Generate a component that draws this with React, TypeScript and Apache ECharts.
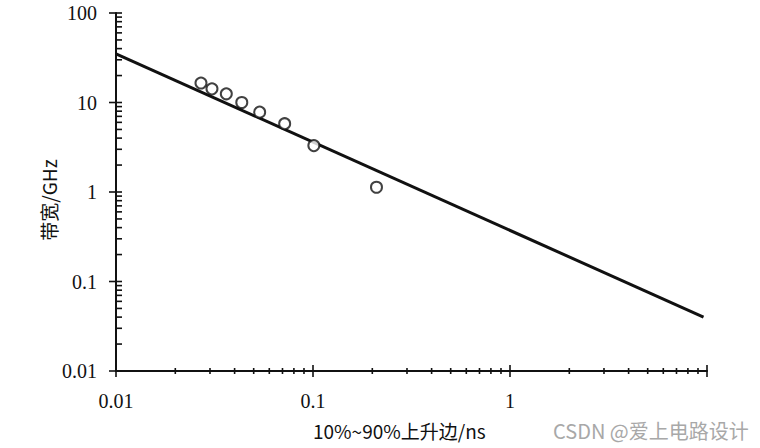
import React, { useEffect, useRef } from "react";
import * as echarts from "echarts";

const xTickLabels = ["0.01", "0.1", "1", ""];
const yTickLabels = ["0.01", "0.1", "1", "10", "100"];
const xMajorTicks = [0.01, 0.1, 1, 10];
const yMajorTicks = [0.01, 0.1, 1, 10, 100];
const xMinorTicks = [0.02, 0.03, 0.04, 0.05, 0.06, 0.07, 0.08, 0.09, 0.2, 0.3, 0.4, 0.5, 0.6, 0.7, 0.8, 0.9, 2, 3, 4, 5, 6, 7, 8, 9];
const yMinorTicks = [0.02, 0.03, 0.04, 0.05, 0.06, 0.07, 0.08, 0.09, 0.2, 0.3, 0.4, 0.5, 0.6, 0.7, 0.8, 0.9, 2, 3, 4, 5, 6, 7, 8, 9, 20, 30, 40, 50, 60, 70, 80, 90];

const fitLine = [
  [0.01, 35],
  [9.6, 0.04],
];
const measured = [
  [0.027, 16.5],
  [0.0307, 14.2],
  [0.0363, 12.5],
  [0.0435, 10.0],
  [0.0536, 7.8],
  [0.0718, 5.8],
  [0.101, 3.3],
  [0.21, 1.13],
];

const xName = "10%~90%上升边/ns";
const yName = "带宽/GHz";
const watermark = "CSDN @爱上电路设计";

export default function App() {
  const ref = useRef<HTMLDivElement>(null);
  useEffect(() => {
    if (!ref.current) return;
    const chart = echarts.init(ref.current, null, { renderer: "svg" });
    const tickItems: any[] = [];
    xMajorTicks.forEach((v) => tickItems.push([v, 0.01, "xM"]));
    xMinorTicks.forEach((v) => tickItems.push([v, 0.01, "xm"]));
    yMajorTicks.forEach((v) => tickItems.push([0.01, v, "yM"]));
    yMinorTicks.forEach((v) => tickItems.push([0.01, v, "ym"]));

    chart.setOption({
      animation: false,
      backgroundColor: "#ffffff",
      grid: { left: 116, right: 53, top: 13, bottom: 77, containLabel: false },
      xAxis: {
        type: "log",
        min: 0.01,
        max: 10,
        logBase: 10,
        axisLine: { show: true, lineStyle: { color: "#111", width: 2 } },
        axisTick: { show: false },
        minorTick: { show: false },
        splitLine: { show: false },
        axisLabel: {
          margin: 20,
          color: "#111",
          fontFamily: "Liberation Serif",
          fontSize: 20,
          formatter: (v: number) => {
            const i = xMajorTicks.findIndex((t) => Math.abs(Math.log10(t) - Math.log10(v)) < 1e-6);
            return i >= 0 ? xTickLabels[i] : "";
          },
        },
      },
      yAxis: {
        type: "log",
        min: 0.01,
        max: 100,
        logBase: 10,
        axisLine: { show: true, lineStyle: { color: "#111", width: 2 } },
        axisTick: { show: false },
        minorTick: { show: false },
        splitLine: { show: false },
        axisLabel: {
          margin: 19,
          color: "#111",
          fontFamily: "Liberation Serif",
          fontSize: 20,
          formatter: (v: number) => {
            const i = yMajorTicks.findIndex((t) => Math.abs(Math.log10(t) - Math.log10(v)) < 1e-6);
            return i >= 0 ? yTickLabels[i] : "";
          },
        },
      },
      series: [
        {
          type: "custom",
          coordinateSystem: "cartesian2d",
          clip: false,
          silent: true,
          data: tickItems,
          renderItem: (params: any, api: any) => {
            const kind = tickItems[params.dataIndex][2];
            const p = api.coord([api.value(0), api.value(1)]);
            let shape;
            if (kind === "xM") shape = { x1: p[0], y1: p[1] - 6, x2: p[0], y2: p[1] + 6 };
            else if (kind === "xm") shape = { x1: p[0], y1: p[1] - 3, x2: p[0], y2: p[1] + 3 };
            else if (kind === "yM") shape = { x1: p[0] - 7, y1: p[1], x2: p[0] + 6, y2: p[1] };
            else shape = { x1: p[0], y1: p[1], x2: p[0] + 6, y2: p[1] };
            return { type: "line", shape, style: { stroke: "#111", lineWidth: 1.6 } };
          },
        },
        {
          type: "line",
          data: fitLine,
          symbol: "none",
          lineStyle: { color: "#111", width: 3 },
          z: 3,
        },
        {
          type: "scatter",
          data: measured,
          symbol: "circle",
          symbolSize: 11,
          itemStyle: { color: "#ffffff", borderColor: "#111", borderWidth: 2 },
          z: 4,
        },
      ],
      graphic: [
        {
          type: "text",
          x: 313,
          y: 430,
          style: {
            text: xName,
            font: '19px "Noto Sans CJK SC", "Noto Sans", sans-serif',
            fill: "#111",
            verticalAlign: "middle",
          },
        },
        {
          type: "text",
          x: 48,
          y: 200,
          rotation: Math.PI / 2,
          style: {
            text: yName,
            font: '19px "Noto Sans CJK SC", "Noto Sans", sans-serif',
            fill: "#111",
            align: "center",
            verticalAlign: "middle",
          },
        },
        {
          type: "text",
          x: 553,
          y: 430,
          style: {
            text: watermark,
            font: '20px "Noto Sans CJK SC", "Noto Sans", sans-serif',
            fill: "#a8a8a8",
            verticalAlign: "middle",
          },
        },
      ],
    });
    return () => chart.dispose();
  }, []);
  return <div ref={ref} style={{ width: 760, height: 448, position: "fixed", left: 0, top: 0 }} />;
}
